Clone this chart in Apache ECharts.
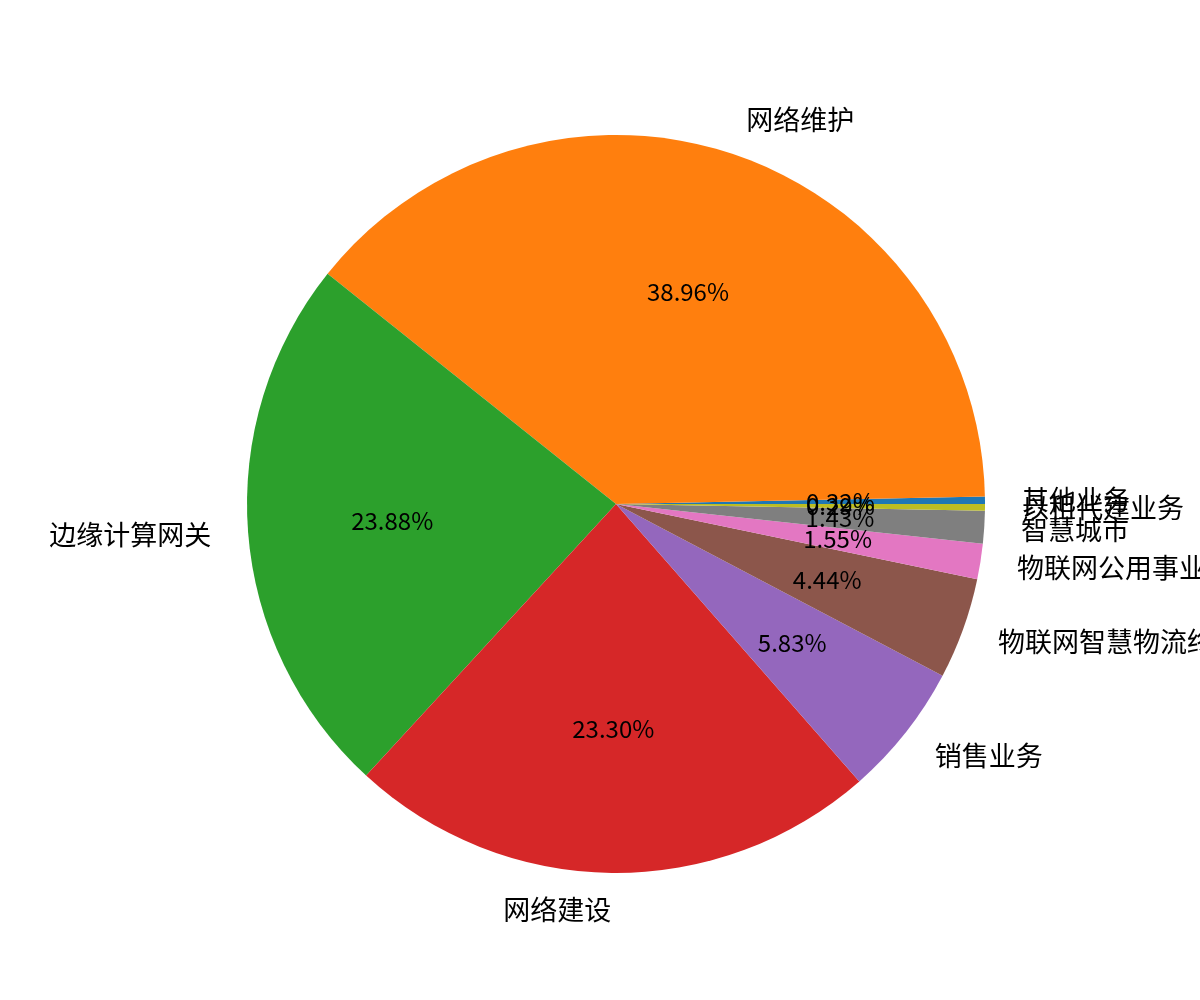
<!DOCTYPE html>
<html>
<head>
<meta charset="utf-8">
<script src="https://cdn.jsdelivr.net/npm/echarts@6/dist/echarts.min.js"></script>
<style>
    html, body { margin: 0; padding: 0; background: #fff; }
    #main { width: 1200px; height: 1000px; }
</style>
</head>
<body>
<div id="main"></div>
<script>
// 各业务占比（%），按饼图逆时针顺序
var names = ['其他业务', '网络维护', '边缘计算网关', '网络建设', '销售业务',
    '物联网智慧物流终端', '物联网公用事业终端', '智慧城市', '以租代建业务'];
var values = [0.32, 38.96, 23.88, 23.30, 5.83, 4.44, 1.55, 1.43, 0.29];
var colors = ['#1f77b4', '#ff7f0e', '#2ca02c', '#d62728', '#9467bd',
    '#8c564b', '#e377c2', '#7f7f7f', '#bcbd22'];

var R = 369;           // 饼半径
var center = [616, 504];

function pieData() {
    var data = [];
    for (var i in names) {
        data.push({ name: names[i], value: values[i] });
    }
    return data;
}

var option = {
    animation: false,
    color: colors,
    series: [
        {
            // 扇区 + 外侧名称
            name: 'pie',
            type: 'pie',
            center: center,
            radius: [0, R],
            startAngle: 0,
            clockwise: false,
            avoidLabelOverlap: false,
            silent: true,
            itemStyle: { borderWidth: 0 },
            label: {
                show: true,
                position: 'outside',
                formatter: '{b}',
                fontFamily: 'Noto Sans CJK SC',
                fontSize: 27,
                color: '#000',
                distanceToLabelLine: 0
            },
            labelLine: { show: false, length: R * 0.1, length2: 0 },
            labelLayout: { hideOverlap: false, moveOverlap: null },
            data: pieData()
        },
        {
            // 透明层，只放百分比（约 0.6 半径处）
            name: 'pct',
            type: 'pie',
            center: center,
            radius: [0, R * 1.2],
            startAngle: 0,
            clockwise: false,
            avoidLabelOverlap: false,
            silent: true,
            itemStyle: { color: 'rgba(0,0,0,0)', borderWidth: 0 },
            label: {
                show: true,
                position: 'inside',
                formatter: function (p) { return p.value.toFixed(2) + '%'; },
                fontFamily: 'Noto Sans CJK SC',
                fontSize: 24,
                color: '#000'
            },
            labelLine: { show: false },
            labelLayout: { hideOverlap: false, moveOverlap: null },
            data: pieData()
        }
    ]
};

echarts.init(document.getElementById('main')).setOption(option);
</script>
</body>
</html>
